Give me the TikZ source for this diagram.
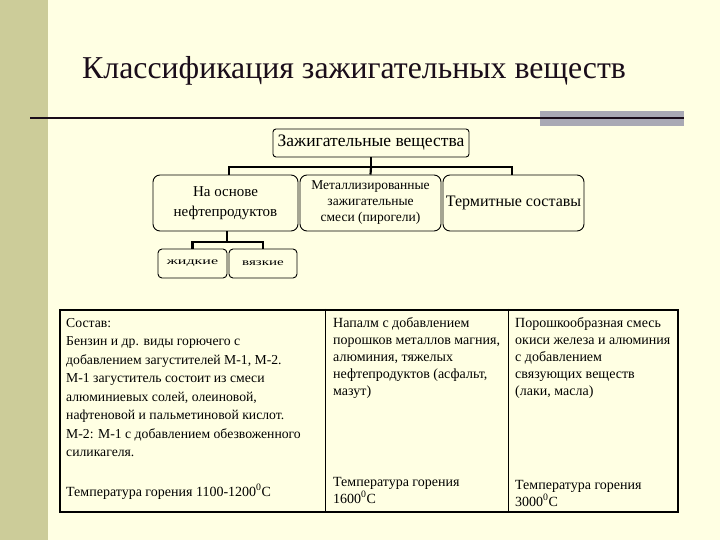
\documentclass[tikz,border=0pt]{standalone}
\usepackage{graphicx}
\usepackage{fontspec}
\setmainfont{Liberation Serif}
\begin{document}
\begin{tikzpicture}[x=1pt,y=-1pt,
  box/.style={draw=black,line width=0.9pt,rounded corners=7pt,fill=none,inner sep=0pt,align=center},
  sbox/.style={draw=black,line width=0.9pt,rounded corners=4pt,inner sep=0pt,align=center,font=\fontsize{10}{12}\selectfont},
  conn/.style={line width=2.2pt,black},
  cell/.style={anchor=base west,inner sep=0pt},
]
\definecolor{bg}{HTML}{FFFFE3}
\definecolor{strip}{HTML}{CCCC99}
\definecolor{bar}{HTML}{A9A9B4}
\definecolor{ttl}{HTML}{1A0D1A}
\useasboundingbox (0,0) rectangle (720,540);
\fill[bg] (0,0) rectangle (720,540);
\fill[strip] (0,0) rectangle (48,540);
% title
\node[anchor=base west,inner sep=0pt,text=ttl,font=\fontsize{31.8}{36}\selectfont] (title) at (82,79) {Классификация зажигательных веществ};
\fill[bar] (540,111) rectangle (684,126);
\draw[line width=2.5pt,ttl] (30,118) -- (684,118);
% tree
\node[box,rounded corners=3pt,minimum width=196pt,minimum height=28pt,font=\fontsize{17.5}{18}\selectfont] (top) at (371,143) {Зажигательные вещества};
\node[box,minimum width=145pt,minimum height=56pt,font=\fontsize{15}{20}\selectfont] (b1) at (225.5,203) {На основе\\нефтепродуктов};
\node[box,minimum width=141pt,minimum height=56pt,font=\fontsize{13.5}{16}\selectfont] (b2) at (370.5,203) {Металлизированные\\зажигательные\\смеси (пирогели)};
\node[box,minimum width=141pt,minimum height=56pt,font=\fontsize{16}{18}\selectfont] (b3) at (513.5,203) {Термитные составы};
\node[sbox,minimum width=69pt,minimum height=29pt] (s1) at (192.5,263.5) {\scalebox{1.6}[1]{жидкие}};
\node[sbox,minimum width=68pt,minimum height=29pt] (s2) at (263,263.5) {\scalebox{1.5}[1]{вязкие}};
\coordinate (j) at (371,167);
\coordinate (k) at (227,242);
\draw[conn] (top.south) -- (j);
\draw[conn] (b1.north -| 229,0) |- (j) -| (b3.north -| 512,0);
\draw[conn] (j) -- (b2.north);
\draw[conn] (b1.south -| k) -- (k);
\draw[conn] (s1.north) |- (k) -| (s2.north);
% table
\node[draw=black,line width=2.5pt,inner sep=0pt,minimum width=618pt,minimum height=202pt] (tbl) at (369,411) {};
\draw[line width=1pt] (tbl.north -| 325,0) -- (tbl.south -| 325,0);
\draw[line width=1pt] (tbl.north -| 508,0) -- (tbl.south -| 508,0);
\node[cell,font=\fontsize{13.7}{18.5}\selectfont] (c1) at (66,327) {\parbox[t]{255pt}{\raggedright Состав:\\Бензин и др. виды горючего с\\добавлением загустителей М-1, М-2.\\М-1 загуститель состоит из смеси\\алюминиевых солей, олеиновой,\\нафтеновой и пальметиновой кислот.\\М-2: М-1 с добавлением обезвоженного\\силикагеля.}};
\node[cell,font=\fontsize{14}{17}\selectfont] (c2) at (333,327) {\parbox[t]{172pt}{\raggedright Напалм с добавлением\\порошков металлов магния,\\алюминия, тяжелых\\нефтепродуктов (асфальт,\\мазут)}};
\node[cell,font=\fontsize{14}{17}\selectfont] (c3) at (515,327) {\parbox[t]{160pt}{\raggedright Порошкообразная смесь\\окиси железа и алюминия\\с добавлением\\связующих веществ\\(лаки, масла)}};
\node[cell,font=\fontsize{14}{17}\selectfont] (t1) at (66,496) {Температура горения 1100-1200\textsuperscript{0}С};
\node[cell,font=\fontsize{14}{17}\selectfont] (t2) at (333,486) {\parbox[t]{172pt}{\raggedright Температура горения\\1600\textsuperscript{0}С}};
\node[cell,font=\fontsize{14}{17}\selectfont] (t3) at (515,489) {\parbox[t]{160pt}{\raggedright Температура горения\\3000\textsuperscript{0}С}};
\end{tikzpicture}
\end{document}
